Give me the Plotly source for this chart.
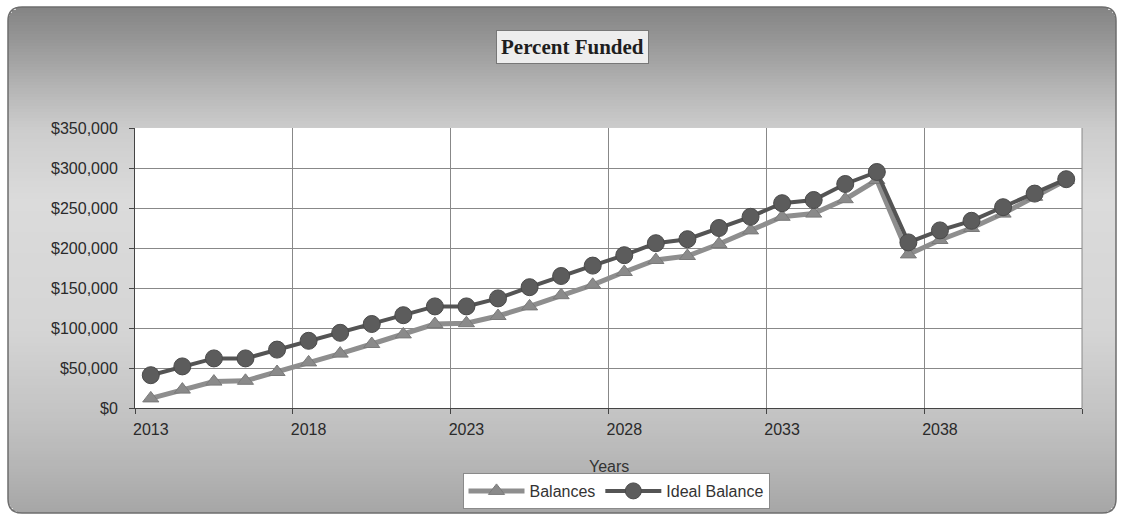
import plotly.graph_objects as go

# ---- data -------------------------------------------------------------
years = [str(y) for y in range(2013, 2043)]

balances = [12000, 23000, 33000, 34000, 45000, 57000, 68000, 80000, 92000, 105000,
            106000, 115000, 127000, 141000, 154000, 170000, 185000, 190000, 205000, 222000,
            239000, 243000, 261000, 285000, 192000, 210000, 225000, 243000, 264000, 285000]

ideal_balance = [41000, 52000, 62000, 62000, 73000, 84000, 94000, 105000, 116000, 127000,
                 127000, 137000, 151000, 165000, 178000, 191000, 206000, 211000, 225000, 239000,
                 256000, 260000, 280000, 295000, 207000, 222000, 234000, 251000, 268000, 286000]

y_ticks = [0, 50000, 100000, 150000, 200000, 250000, 300000, 350000]
y_tick_text = [f"${v:,}" for v in y_ticks]

# ---- geometry ---------------------------------------------------------
W, H = 1123, 525
ML, MR, MT, MB = 135, 41, 128, 117
PW, PH = W - ML - MR, H - MT - MB


def px(x):
    return (x - ML) / PW


def py(y):
    return (H - MB - y) / PH


FONT = "Liberation Sans, Arial, sans-serif"
GRID = "#888888"

fig = go.Figure()

fig.add_trace(go.Scatter(
    x=years, y=balances, name="Balances", mode="lines+markers",
    line=dict(color="#8e8e8e", width=5),
    marker=dict(symbol="triangle-up", size=14, color="#8a8a8a",
                line=dict(color="#7a7a7a", width=1)),
))
fig.add_trace(go.Scatter(
    x=years, y=ideal_balance, name="Ideal Balance", mode="lines+markers",
    line=dict(color="#545454", width=4),
    marker=dict(symbol="circle", size=17, color="#5c5c5c",
                line=dict(color="#4a4a4a", width=1)),
))

# ---- chart-area background: vertical grey gradient with rounded corners ----
FX0, FX1, FY0, FY1, R = 8, 1116, 7, 513, 14
stops = [(7, 0x84), (40, 0x96), (90, 0xb6), (130, 0xcd), (200, 0xdb),
         (330, 0xd5), (420, 0xc2), (470, 0xb4), (513, 0xa6)]


def grey_at(y):
    for (ya, ca), (yb, cb) in zip(stops[:-1], stops[1:]):
        if ya <= y <= yb:
            t = (y - ya) / (yb - ya)
            return int(round(ca + (cb - ca) * t))
    return stops[-1][1]


shapes = []
step = 3
y = FY0
while y < FY1:
    y2 = min(y + step, FY1)
    mid = (y + y2) / 2
    d = min(mid - FY0, FY1 - mid)
    inset = 0.0
    if d < R:
        inset = R - (R * R - (R - d) ** 2) ** 0.5
    g = grey_at(mid)
    shapes.append(dict(
        type="rect", xref="paper", yref="paper", layer="below",
        x0=px(FX0 + inset), x1=px(FX1 - inset), y0=py(y2), y1=py(y),
        fillcolor=f"rgb({g},{g},{g})", line=dict(width=0),
    ))
    y = y2

# frame outline
xa, xb = px(FX0), px(FX1)
ya_, yb_ = py(FY0), py(FY1)
rx, ry = R / PW, R / PH
path = (f"M {xa + rx},{ya_} L {xb - rx},{ya_} Q {xb},{ya_} {xb},{ya_ - ry} "
        f"L {xb},{yb_ + ry} Q {xb},{yb_} {xb - rx},{yb_} "
        f"L {xa + rx},{yb_} Q {xa},{yb_} {xa},{yb_ + ry} "
        f"L {xa},{ya_ - ry} Q {xa},{ya_} {xa + rx},{ya_} Z")
shapes.append(dict(type="path", xref="paper", yref="paper", layer="below",
                   path=path, line=dict(color="#6e6e6e", width=1.5)))

# white plotting area, closed on the right by a grid-coloured edge
shapes.append(dict(type="rect", xref="paper", yref="paper", layer="below",
                   x0=0, x1=1, y0=0, y1=1, fillcolor="white", line=dict(width=0)))
shapes.append(dict(type="line", xref="paper", yref="paper", layer="below",
                   x0=1, x1=1, y0=0, y1=1, line=dict(color=GRID, width=1)))

annotations = [
    dict(text="<b>Percent Funded</b>", xref="paper", yref="paper",
         x=px(572), y=py(47), showarrow=False, xanchor="center", yanchor="middle",
         font=dict(family="Liberation Serif, Times New Roman, serif", size=21, color="#1e1e1e"),
         bgcolor="#ededed", bordercolor="#777777", borderwidth=1, borderpad=4),
    dict(text="Years", xref="paper", yref="paper", x=0.5, y=py(466),
         showarrow=False, xanchor="center", yanchor="middle",
         font=dict(family=FONT, size=16, color="#333333")),
]

fig.update_layout(
    width=W, height=H,
    margin=dict(l=ML, r=MR, t=MT, b=MB, autoexpand=False),
    paper_bgcolor="white", plot_bgcolor="white",
    shapes=shapes, annotations=annotations,
    showlegend=True,
    legend=dict(orientation="h", x=px(616), xanchor="center", y=py(473), yanchor="top",
                bgcolor="white", bordercolor="#8a8a8a", borderwidth=1,
                font=dict(family=FONT, size=16, color="#333333"),
                itemwidth=56),
    xaxis=dict(type="category", range=[-0.5, len(years) - 0.5], dtick=5, tickson="boundaries",
               tickangle=0,
               showgrid=True, gridcolor=GRID, gridwidth=1,
               ticks="outside", ticklen=5, tickcolor="#444444",
               showline=True, linecolor="#444444", linewidth=1, mirror=False,
               tickfont=dict(family=FONT, size=16, color="#2a2a2a"),
               ticklabelstandoff=7, fixedrange=True),
    yaxis=dict(range=[0, 350000], tickmode="array", tickvals=y_ticks, ticktext=y_tick_text,
               showgrid=True, gridcolor=GRID, gridwidth=1, zeroline=False,
               ticks="outside", ticklen=5, tickcolor="#444444",
               showline=True, linecolor="#444444", linewidth=1,
               tickfont=dict(family=FONT, size=16, color="#2a2a2a"),
               ticklabelstandoff=8, fixedrange=True),
)

fig.write_html("out.html")
